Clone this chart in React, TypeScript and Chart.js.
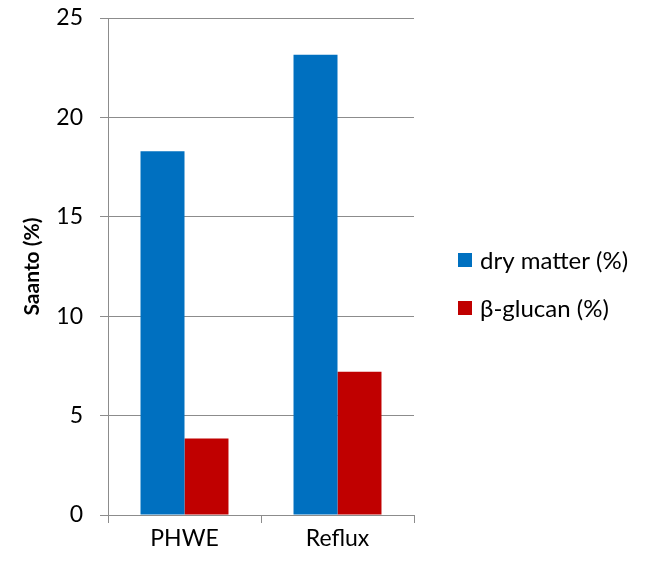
import React, { useEffect, useRef } from "react";
import { Chart, registerables } from "chart.js";

Chart.register(...registerables);

const categories = ["PHWE", "Reflux"];
const seriesNames = ["dry matter (%)", "β-glucan (%)"];
const dryMatter = [18.3, 23.15];
const betaGlucan = [3.85, 7.2];
const yTicks = [0, 5, 10, 15, 20, 25];
const yTitle = "Saanto (%)";

const FONT = "Lato, 'Open Sans', sans-serif";
const GRID = "#8c8c8c";

const customLegend = {
  id: "customLegend",
  afterDraw(chart: any) {
    const { ctx, chartArea } = chart;
    ctx.save();
    ctx.font = `24px ${FONT}`;
    ctx.textBaseline = "middle";
    ctx.textAlign = "left";
    chart.data.datasets.forEach((ds: any, i: number) => {
      const bx = chartArea.right + 44;
      const by = 253 + i * 48;
      ctx.fillStyle = ds.backgroundColor;
      ctx.fillRect(bx, by, 14, 14);
      ctx.fillStyle = "#000";
      ctx.fillText(ds.label, bx + 22, by + 8);
    });
    ctx.restore();
  },
};

export default function App() {
  const ref = useRef<HTMLCanvasElement>(null);
  useEffect(() => {
    if (!ref.current) return;
    const chart = new Chart(ref.current, {
      type: "bar",
      data: {
        labels: categories,
        datasets: [
          { label: seriesNames[0], data: dryMatter, backgroundColor: "#0070C0" },
          { label: seriesNames[1], data: betaGlucan, backgroundColor: "#C00000" },
        ],
      },
      options: {
        responsive: false,
        animation: false,
        layout: { padding: { top: 18, right: 238, left: 0, bottom: 0 } },
        datasets: { bar: { categoryPercentage: 0.575, barPercentage: 1 } },
        plugins: { legend: { display: false }, tooltip: { enabled: false } },
        scales: {
          x: {
            grid: { display: true, drawOnChartArea: false, drawTicks: true, tickLength: 8, color: GRID, offset: true },
            border: { display: true, color: GRID },
            ticks: { color: "#000", font: { family: FONT, size: 23 }, padding: 2 },
            afterFit: (s: any) => { s.height = 46; s.paddingLeft = 0; s.paddingRight = 0; },
          },
          y: {
            min: 0,
            max: 25,
            afterBuildTicks: (s: any) => { s.ticks = yTicks.map((v) => ({ value: v })); },
            grid: { color: GRID, tickLength: 8 },
            border: { display: true, color: GRID },
            ticks: { color: "#000", font: { family: FONT, size: 23 }, padding: 17 },
            title: { display: true, text: yTitle, color: "#000", font: { family: FONT, size: 21, weight: "bold" }, padding: { top: 20, bottom: 0 } },
            afterFit: (s: any) => { s.width = 108; s.paddingTop = 0; s.paddingBottom = 0; },
          },
        },
      },
      plugins: [customLegend],
    });
    return () => chart.destroy();
  }, []);
  return (
    <div style={{ position: "absolute", left: 0, top: 0, width: 652, height: 561, background: "#fff" }}>
      <canvas ref={ref} width={652} height={561} style={{ display: "block" }} />
    </div>
  );
}
